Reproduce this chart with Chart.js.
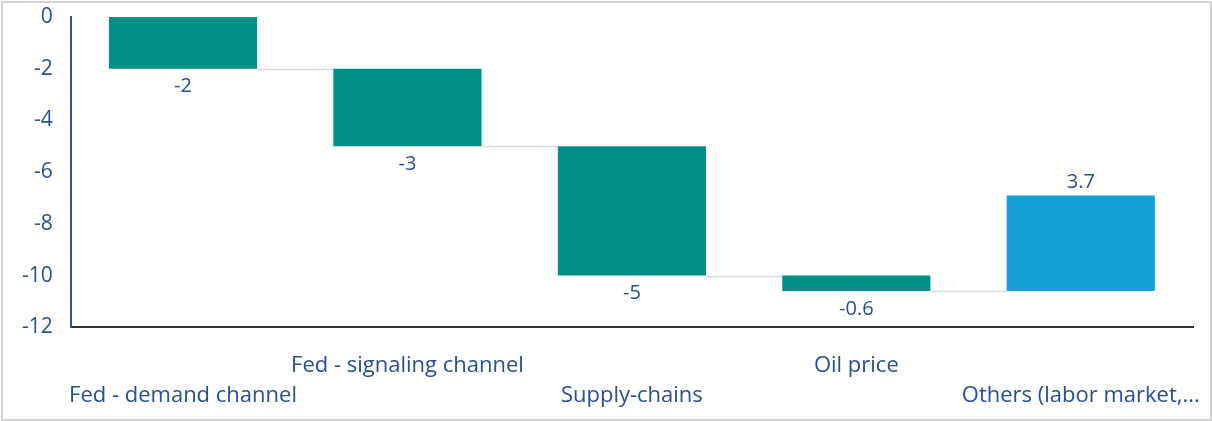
<!DOCTYPE html>
<html>
<head>
<meta charset="utf-8">
<script src="https://cdn.jsdelivr.net/npm/chart.js@4/dist/chart.umd.min.js"></script>
<style>
html,body{margin:0;padding:0;background:#fff;}
#wrap{position:relative;width:1212px;height:421px;}
#frame{position:absolute;left:1px;top:1px;width:1207px;height:416px;border:2px solid #d4d4d4;pointer-events:none;}
</style>
</head>
<body>
<div id="wrap"><canvas id="c" width="1212" height="421"></canvas><div id="frame"></div></div>
<script>
const categories = [
  ["", "Fed - demand channel"],
  ["Fed - signaling channel", ""],
  ["", "Supply-chains"],
  ["Oil price", ""],
  ["", "Others (labor market,..."]
];
const contributions = [-2, -3, -5, -0.6, 3.7];
const valueLabels = ["-2", "-3", "-5", "-0.6", "3.7"];
const barColors = ["#008f89", "#008f89", "#008f89", "#008f89", "#14a0d5"];
const yTicks = [0, -2, -4, -6, -8, -10, -12];

const floating = [];
const ends = [];
let run = 0;
contributions.forEach(v => { floating.push([run, run + v]); run += v; ends.push(run); });

const TEXT = "#2a4f8f";
const FONT = "'Open Sans', 'DejaVu Sans', sans-serif";

const connectors = {
  id: 'connectors',
  beforeDatasetsDraw(chart) {
    const meta = chart.getDatasetMeta(0);
    const y = chart.scales.y;
    const ctx = chart.ctx;
    ctx.save();
    ctx.strokeStyle = '#d9d9d9';
    ctx.lineWidth = 1.5;
    for (let i = 0; i < meta.data.length - 1; i++) {
      const a = meta.data[i], b = meta.data[i + 1];
      const py = Math.round(y.getPixelForValue(ends[i])) + 0.5;
      ctx.beginPath();
      ctx.moveTo(a.x + a.width / 2, py);
      ctx.lineTo(b.x - b.width / 2, py);
      ctx.stroke();
    }
    ctx.restore();
  }
};

const valueLabelPlugin = {
  id: 'valueLabels',
  afterDatasetsDraw(chart) {
    const meta = chart.getDatasetMeta(0);
    const y = chart.scales.y;
    const ctx = chart.ctx;
    ctx.save();
    ctx.fillStyle = TEXT;
    ctx.font = "20px " + FONT;
    ctx.textAlign = 'center';
    meta.data.forEach((el, i) => {
      const v = contributions[i];
      if (v < 0) {
        ctx.textBaseline = 'top';
        ctx.fillText(valueLabels[i], el.x, y.getPixelForValue(floating[i][1]) + 8);
      } else {
        ctx.textBaseline = 'bottom';
        ctx.fillText(valueLabels[i], el.x, y.getPixelForValue(floating[i][1]) - 3);
      }
    });
    ctx.restore();
  }
};

new Chart(document.getElementById('c'), {
  type: 'bar',
  data: {
    labels: categories,
    datasets: [{
      data: floating,
      backgroundColor: barColors,
      borderWidth: 0,
      categoryPercentage: 1,
      barPercentage: 0.66
    }]
  },
  options: {
    responsive: false,
    animation: false,
    layout: { padding: { top: 17, right: 19, left: 12, bottom: -5 } },
    plugins: { legend: { display: false }, tooltip: { enabled: false } },
    scales: {
      x: {
        afterFit(s) { s.paddingLeft = 0; s.paddingRight = 0; },
        grid: { display: false },
        border: { display: true, color: '#333333', width: 2 },
        ticks: { color: TEXT, font: { family: FONT, size: 22, lineHeight: 1.38 }, maxRotation: 0, autoSkip: false, padding: 15 }
      },
      y: {
        min: -12, max: 0,
        afterFit(s) { s.paddingTop = 0; s.paddingBottom = 0; },
        afterBuildTicks(scale) { scale.ticks = yTicks.map(v => ({ value: v })); },
        grid: { display: false },
        border: { display: true, color: '#2f5597', width: 2 },
        ticks: { color: TEXT, font: { family: FONT, size: 21 }, padding: 10 }
      }
    }
  },
  plugins: [connectors, valueLabelPlugin]
});
</script>
</body>
</html>
